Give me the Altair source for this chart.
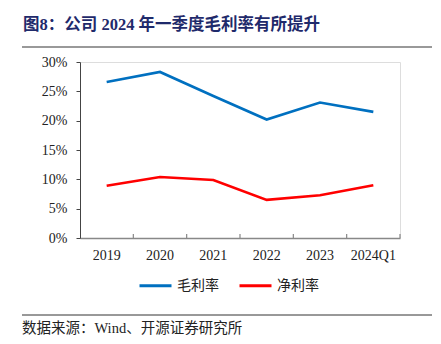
import altair as alt
import pandas as pd

years = ["2019", "2020", "2021", "2022", "2023", "2024Q1"]
gross = [0.266, 0.283, 0.242, 0.202, 0.231, 0.215]
net = [0.089, 0.104, 0.099, 0.065, 0.073, 0.090]
series_names = ["毛利率", "净利率"]
colors = ["#0070C0", "#FF0000"]
title_text = "图8：公司 2024 年一季度毛利率有所提升"
source_text = "数据来源：Wind、开源证券研究所"
y_ticks = [0, 0.05, 0.10, 0.15, 0.20, 0.25, 0.30]

rows = []
for y, g, n in zip(years, gross, net):
    rows.append({"year": y, "series": series_names[0], "value": g})
    rows.append({"year": y, "series": series_names[1], "value": n})
df = pd.DataFrame(rows)

W, H = 320, 176
serif = "Liberation Serif, Times New Roman, Noto Sans CJK SC"
cjk = "Noto Sans CJK SC"

xscale = alt.Scale(type="band", paddingInner=0, paddingOuter=0, domain=years)

lines = alt.Chart(df).mark_line(strokeWidth=2.6).encode(
    x=alt.X("year:N", scale=xscale, bandPosition=0.5, title=None,
            axis=alt.Axis(ticks=False, tickSize=0, labelPadding=10, labelAngle=0,
                          labelFont=serif, labelFontSize=14, labelColor="#222",
                          domainColor="#888", domainWidth=1.5, grid=False)),
    y=alt.Y("value:Q", scale=alt.Scale(domain=[0, 0.30], nice=False), title=None,
            axis=alt.Axis(values=y_ticks, format=".0%", grid=False, tickSize=4,
                          tickColor="#444", domainColor="#444", labelPadding=9,
                          labelFont=serif, labelFontSize=14, labelColor="#222")),
    color=alt.Color("series:N", scale=alt.Scale(domain=series_names, range=colors),
                    legend=alt.Legend(title=None, orient="none", legendX=58, legendY=206,
                                      direction="horizontal", symbolType="stroke",
                                      symbolSize=1024, symbolStrokeWidth=3,
                                      labelFont=cjk, labelFontSize=14, labelColor="#222",
                                      labelOffset=4, columnPadding=14)),
    detail="series:N",
)

tick_df = pd.DataFrame({"year": years})
xticks = alt.Chart(tick_df).mark_rule(color="#888", strokeWidth=1.2).encode(
    x=alt.X("year:N", scale=xscale, bandPosition=1),
    y=alt.value(H - 4),
    y2=alt.value(H),
)

one = pd.DataFrame({"a": [0]})
title = alt.Chart(one).mark_text(
    align="left", baseline="middle", font=serif, fontSize=16.5, fontWeight="bold",
    color="#1F2A6B"
).encode(x=alt.value(-57), y=alt.value(-37), text=alt.value(title_text))

title_rule = alt.Chart(one).mark_rule(color="#999", strokeWidth=2.2).encode(
    x=alt.value(-58), x2=alt.value(352), y=alt.value(-15))

foot_rule = alt.Chart(one).mark_rule(color="#333", strokeWidth=1).encode(
    x=alt.value(-58), x2=alt.value(352), y=alt.value(253))

source = alt.Chart(one).mark_text(
    align="left", baseline="middle", font=serif, fontSize=14.5, color="#222"
).encode(x=alt.value(-58), y=alt.value(267), text=alt.value(source_text))

chart = alt.layer(lines, xticks, title, title_rule, foot_rule, source).properties(
    width=W, height=H,
    autosize=alt.AutoSizeParams(type="none"),
    padding={"left": 80, "top": 62, "right": 41, "bottom": 106},
).configure_view(stroke=None).configure(background="white")

chart.save("out.html", embed_options={"renderer": "svg", "actions": False})
